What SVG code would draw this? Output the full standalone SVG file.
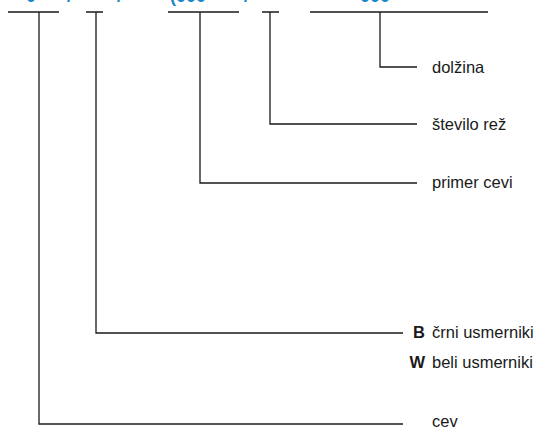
<svg xmlns="http://www.w3.org/2000/svg" width="542" height="429" viewBox="0 0 542 429">
<style>
.ln{fill:none;stroke:#1a1a1a;stroke-width:1.3}
.lb{font-family:"Liberation Sans",Arial,sans-serif;font-size:16.5px;fill:#1a1a1a}
.bd{font-family:"Liberation Sans",Arial,sans-serif;font-size:16.5px;font-weight:bold;fill:#1a1a1a;text-anchor:end}
.code{font-family:"Liberation Sans",Arial,sans-serif;font-size:18px;font-weight:bold;fill:#1a87c9}
</style>
<rect width="542" height="429" fill="#ffffff"/>
<g id="code">
<text class="code" x="26" y="2">0</text>
<text class="code" x="67" y="2">/</text>
<text class="code" x="117" y="2">/</text>
<text class="code" x="170" y="2">(000</text>
<text class="code" x="244" y="2">/</text>
<text class="code" x="360" y="2">000</text>
</g>
<g id="connectors">
<path class="ln" d="M8 12H59M39 12V424H403"/>
<path class="ln" d="M86 12H103M96 12V333H403"/>
<path class="ln" d="M168 12H239M200 12V183H417"/>
<path class="ln" d="M262 12H279M270 12V124H417"/>
<path class="ln" d="M310 12H488M380 12V67H417"/>
</g>
<g id="dolzina"><text class="lb" x="432" y="73">dolžina</text></g>
<g id="stevilo-rez"><text class="lb" x="432" y="130">število rež</text></g>
<g id="primer-cevi"><text class="lb" x="432" y="188">primer cevi</text></g>
<g id="usmerniki-b"><text class="bd" x="425" y="338">B</text><text class="lb" x="432" y="338">črni usmerniki</text></g>
<g id="usmerniki-w"><text class="bd" x="425" y="368">W</text><text class="lb" x="432" y="368">beli usmerniki</text></g>
<g id="cev"><text class="lb" x="432" y="427">cev</text></g>
</svg>
